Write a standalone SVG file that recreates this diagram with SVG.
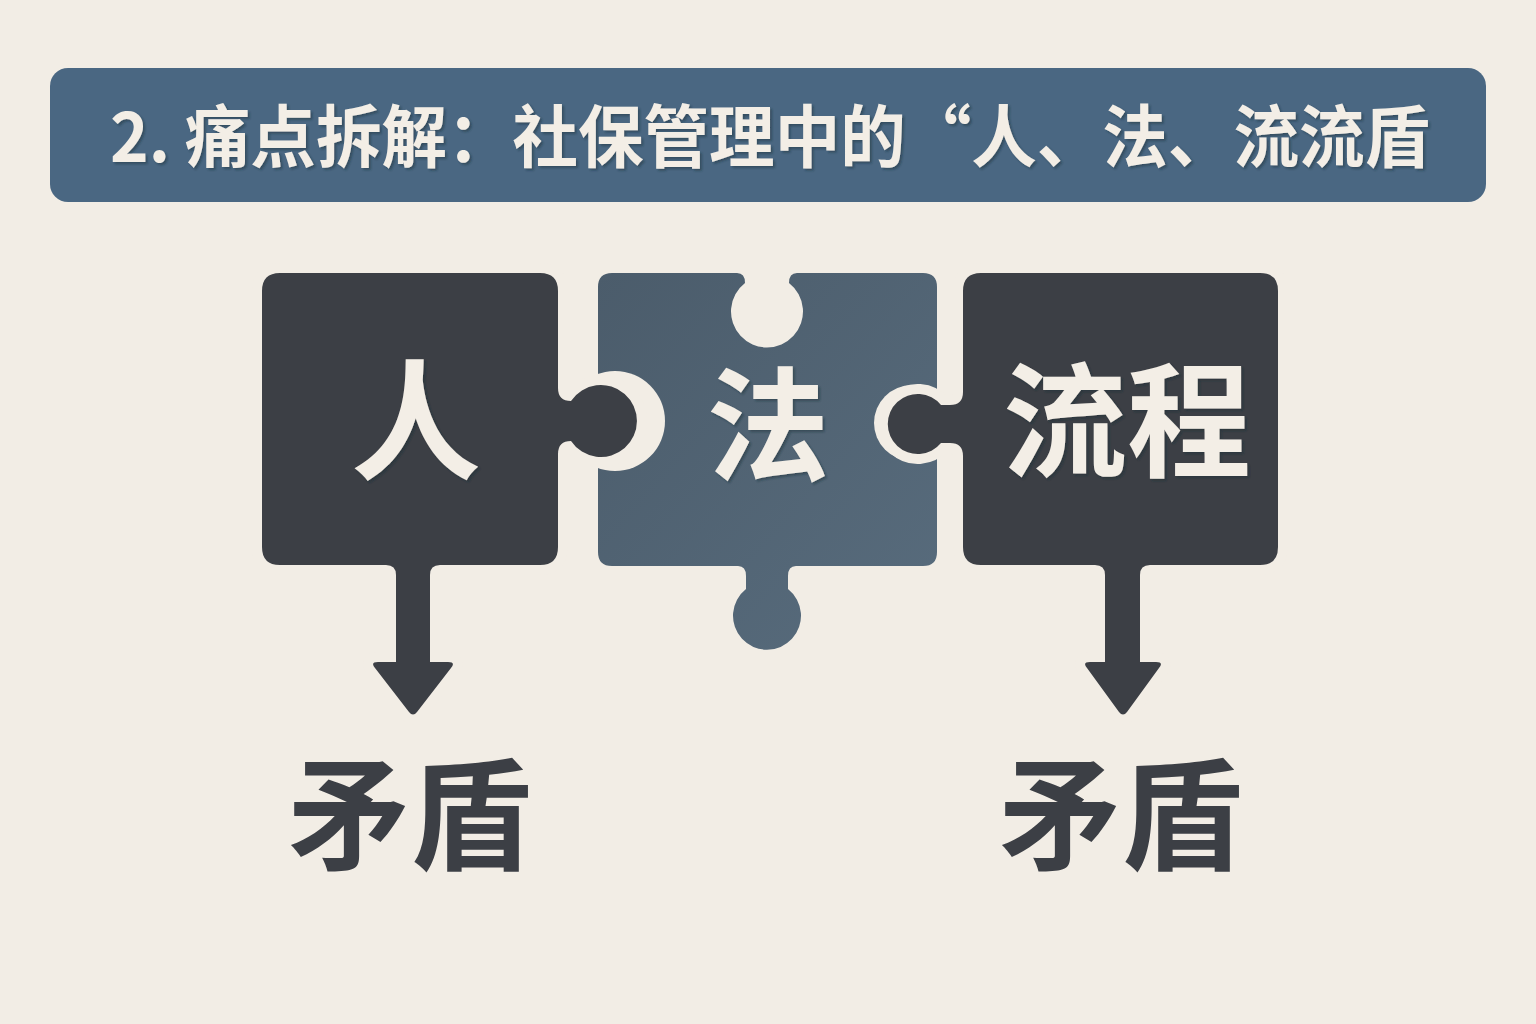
<svg xmlns="http://www.w3.org/2000/svg" width="1536" height="1024" viewBox="0 0 1536 1024">
  <defs>
    <filter id="ts" x="-5%" y="-5%" width="110%" height="110%">
      <feDropShadow dx="2" dy="2" stdDeviation="0.8" flood-color="#1e2a36" flood-opacity="0.45"/>
    </filter>
    <linearGradient id="midg" x1="0" y1="0" x2="1" y2="1">
      <stop offset="0" stop-color="#4b5c6b"/>
      <stop offset="1" stop-color="#586c7d"/>
    </linearGradient>
  </defs>
  <style>
    .cjk { font-family: "Noto Sans CJK SC", "Noto Sans", sans-serif; font-weight: 700; }
    .light { fill: #f3eee6; }
    .dark { fill: #3c3f45; }
    .piece { fill: #3c3f45; stroke: #f2ede5; stroke-width: 20; paint-order: stroke; stroke-linejoin: round; }
    .bg { fill: #f2ede5; }
  </style>
  <rect width="1536" height="1024" fill="#f2ede5"/>

  <g id="title">
    <rect x="50" y="68" width="1436" height="134" rx="18" fill="#4a6782"/>
    <text class="cjk light" x="110" y="162" font-size="68" textLength="1320" lengthAdjust="spacingAndGlyphs" filter="url(#ts)">2. 痛点拆解：社保管理中的“人、法、流流盾</text>
  </g>

  <g id="node-fa">
    <path fill="url(#midg)" d="M612,273 H737 Q745,273 745,283 A36 36 0 1 0 789,283 Q789,273 797,273 H923 Q937,273 937,287 V552 Q937,566 923,566 H796 Q788,566 788,576 V589 A34 34 0 1 1 746,589 V576 Q746,566 738,566 H612 Q598,566 598,552 V287 Q598,273 612,273 Z"/>
    <circle class="bg" cx="615" cy="421" r="50"/>
    <circle class="bg" cx="912" cy="423" r="38"/>
    <text class="cjk light" x="768" y="471" font-size="123" text-anchor="middle" filter="url(#ts)">法</text>
  </g>

  <g id="node-ren">
    <path class="piece" d="M280,273 H540 Q558,273 558,291 V388 Q558,401 571,401 A36 36 0 1 1 571,441 Q558,441 558,454 V547 Q558,565 540,565 H440 Q430,565 430,575 V662 H448 Q456,662 451,668 L417,712 Q413,717 409,712 L375,668 Q370,662 378,662 H396 V575 Q396,565 386,565 H280 Q262,565 262,547 V291 Q262,273 280,273 Z"/>
    <text class="cjk light" x="416" y="469" font-size="130" text-anchor="middle" filter="url(#ts)">人</text>
  </g>

  <g id="node-liucheng">
    <path class="piece" d="M981,273 H1260 Q1278,273 1278,291 V547 Q1278,565 1260,565 H1150 Q1140,565 1140,575 V662 H1156 Q1164,662 1159,668 L1127,712 Q1123,717 1119,712 L1087,668 Q1082,662 1090,662 H1105 V575 Q1105,565 1095,565 H981 Q963,565 963,547 V456 Q963,443 950,443 L941,443 A30 30 0 1 1 941,405 L950,405 Q963,405 963,392 V291 Q963,273 981,273 Z"/>
    <text class="cjk light" x="1127" y="467" font-size="124" text-anchor="middle" filter="url(#ts)">流程</text>
  </g>

  <g id="node-maodun-left">
    <text class="cjk dark" x="410" y="860" font-size="122" text-anchor="middle">矛盾</text>
  </g>
  <g id="node-maodun-right">
    <text class="cjk dark" x="1121" y="860" font-size="122" text-anchor="middle">矛盾</text>
  </g>
</svg>
